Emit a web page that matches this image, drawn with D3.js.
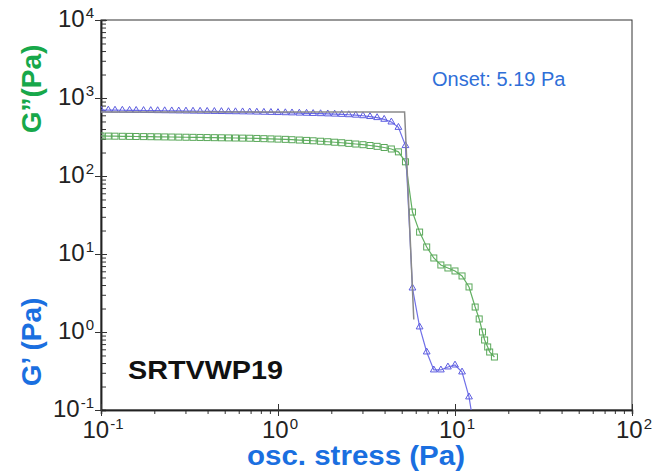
<!DOCTYPE html>
<html>
<head>
<meta charset="utf-8">
<script src="https://cdn.jsdelivr.net/npm/d3@7"></script>
<style>
  body { margin: 0; background: #fff; }
  svg { display: block; font-family: "Liberation Sans", Arial, sans-serif; }
</style>
</head>
<body>
<svg id="chart" width="670" height="472"></svg>
<script>
// oscillation stress (Pa)
var stress = [0.100, 0.110, 0.120, 0.132, 0.145, 0.158, 0.174, 0.191, 0.209, 0.229,
    0.251, 0.275, 0.302, 0.331, 0.363, 0.398, 0.437, 0.479, 0.525, 0.575,
    0.631, 0.692, 0.759, 0.832, 0.912, 1.00, 1.10, 1.20, 1.32, 1.45,
    1.58, 1.74, 1.91, 2.09, 2.29, 2.51, 2.75, 3.02, 3.31, 3.63,
    3.98, 4.37, 4.79, 5.25, 5.75, 6.31, 6.92, 7.59, 8.32, 9.12,
    10.0, 10.96, 12.0, 13.0, 13.7, 14.3, 14.7, 15.3, 15.7, 16.7];

// G' storage modulus (Pa), blue triangles
var gPrime = [702, 700, 698, 697, 695, 693, 691, 690, 688, 686,
    684, 682, 680, 678, 676, 674, 672, 670, 668, 666,
    664, 662, 659, 656, 653, 650, 647, 644, 640, 637,
    633, 629, 625, 621, 616, 610, 602, 592, 578, 560,
    533, 492, 420, 245, 3.66, 1.16, 0.554, 0.326, 0.326, 0.356,
    0.377, 0.307, 0.147, 0.048];

// G'' loss modulus (Pa), green squares
var gDouble = [326, 325, 324, 323, 322, 321, 320, 319, 318, 317,
    316, 315, 314, 313, 312, 311, 310, 309, 308, 307,
    306, 305, 303, 301, 299, 297, 295, 292, 289, 286,
    283, 279, 275, 271, 267, 262, 257, 252, 246, 240,
    232, 222, 204, 152, 34.5, 19.1, 12.3, 8.89, 7.23, 6.62,
    6.06, 5.23, 3.78, 2.09, 1.47, 1.00, 0.79, 0.643, 0.554, 0.478];

// onset construction line (plateau + tangent)
var onsetX = [0.1, 5.19, 5.85];
var onsetY = [662, 662, 1.45];

var decadesX = [-1, 0, 1, 2];
var decadesY = [-1, 0, 1, 2, 3, 4];

var svg = d3.select("#chart");
var plotL = 101, plotR = 632, plotT = 20, plotB = 410;

var x = d3.scaleLog().domain([0.1, 100]).range([plotL, plotR]);
var y = d3.scaleLog().domain([0.1, 10000]).range([plotB, plotT]);

function minors(decs) {
    var out = [];
    decs.slice(0, -1).forEach(function (d) {
        for (var m = 2; m <= 9; m++) out.push(m * Math.pow(10, d));
    });
    return out;
}

svg.append("defs").append("clipPath").attr("id", "plotclip")
    .append("rect").attr("x", plotL).attr("y", plotT)
    .attr("width", plotR - plotL).attr("height", plotB - plotT);

// frame
svg.append("rect")
    .attr("x", plotL).attr("y", plotT)
    .attr("width", plotR - plotL).attr("height", plotB - plotT)
    .attr("fill", "none").attr("stroke", "#333").attr("stroke-width", 1);

// left axis
svg.append("g")
    .attr("transform", "translate(" + plotL + ",0)")
    .call(d3.axisLeft(y).tickValues(minors(decadesY)).tickSize(-5).tickFormat(""));
var yMajor = svg.append("g")
    .attr("transform", "translate(" + plotL + ",0)")
    .call(d3.axisLeft(y).tickValues(decadesY.map(function (d) { return Math.pow(10, d); }))
        .tickSizeInner(6).tickSizeOuter(0).tickFormat(""));
yMajor.selectAll(".tick line").attr("x2", -6).attr("x1", 6);

// bottom axis
svg.append("g")
    .attr("transform", "translate(0," + plotB + ")")
    .call(d3.axisBottom(x).tickValues(minors(decadesX)).tickSize(4).tickFormat(""));
var xMajor = svg.append("g")
    .attr("transform", "translate(0," + plotB + ")")
    .call(d3.axisBottom(x).tickValues(decadesX.map(function (d) { return Math.pow(10, d); }))
        .tickSizeInner(6).tickSizeOuter(0).tickFormat(""));
xMajor.selectAll(".tick line").attr("y1", -6);

svg.selectAll(".domain").attr("stroke", "#222").attr("stroke-width", 1.5);
svg.selectAll(".tick line").attr("stroke", "#333");

// tick labels with superscripts
var yLab = svg.append("g").selectAll("text").data(decadesY).join("text")
    .attr("x", 94).attr("y", function (d) { return y(Math.pow(10, d)) + 7; })
    .attr("text-anchor", "end").attr("fill", "#222").attr("font-size", 24);
yLab.append("tspan").text("10");
yLab.append("tspan").attr("dx", 1).attr("dy", -9).attr("font-size", 15).text(function (d) { return d; });

var xLab = svg.append("g").selectAll("text").data(decadesX).join("text")
    .attr("x", function (d) { return x(Math.pow(10, d)) + 2; }).attr("y", 438)
    .attr("text-anchor", "middle").attr("fill", "#222").attr("font-size", 24);
xLab.append("tspan").text("10");
xLab.append("tspan").attr("dx", 1).attr("dy", -9).attr("font-size", 15).text(function (d) { return d; });

// axis titles
svg.append("text")
    .attr("transform", "translate(41,89) rotate(-90)")
    .attr("text-anchor", "middle").attr("font-size", 28).attr("font-weight", "bold")
    .attr("fill", "#17a84a").text("G\u201d(Pa)");
svg.append("text")
    .attr("transform", "translate(41,342) rotate(-90)")
    .attr("text-anchor", "middle").attr("font-size", 28).attr("font-weight", "bold")
    .attr("fill", "#1a6fe0").text("G\u2019 (Pa)");
svg.append("text")
    .attr("x", 356).attr("y", 465)
    .attr("text-anchor", "middle").attr("font-size", 27).attr("font-weight", "bold")
    .attr("fill", "#1a6fe0").attr("textLength", 218).attr("lengthAdjust", "spacingAndGlyphs")
    .text("osc. stress (Pa)");

var plot = svg.append("g").attr("clip-path", "url(#plotclip)");

var line = d3.line().x(function (d) { return x(d[0]); }).y(function (d) { return y(d[1]); });

var gpData = gPrime.map(function (v, i) { return [stress[i], v]; });
var gdData = gDouble.map(function (v, i) { return [stress[i], v]; });
var onsetData = onsetX.map(function (v, i) { return [v, onsetY[i]]; });

// G'' (green)
plot.append("path").datum(gdData)
    .attr("fill", "none").attr("stroke", "#62b062").attr("stroke-width", 1.2)
    .attr("d", line);
plot.append("g").selectAll("rect").data(gdData).join("rect")
    .attr("x", function (d) { return x(d[0]) - 3; })
    .attr("y", function (d) { return y(d[1]) - 3; })
    .attr("width", 6).attr("height", 6)
    .attr("fill", "none").attr("stroke", "#5aa85a").attr("stroke-width", 1);

// G' (blue)
plot.append("path").datum(gpData)
    .attr("fill", "none").attr("stroke", "#7070e8").attr("stroke-width", 1.2)
    .attr("d", line);
plot.append("g").selectAll("path").data(gpData).join("path")
    .attr("transform", function (d) { return "translate(" + x(d[0]) + "," + y(d[1]) + ")"; })
    .attr("d", d3.symbol(d3.symbolTriangle, 20))
    .attr("fill", "none").attr("stroke", "#5c5ce0").attr("stroke-width", 1);

// onset construction line
plot.append("path").datum(onsetData)
    .attr("fill", "none").attr("stroke", "#8a8a8a").attr("stroke-width", 1.5)
    .attr("d", line);

// annotations
svg.append("text")
    .attr("x", 432).attr("y", 86)
    .attr("font-size", 20).attr("fill", "#2f6fd8")
    .text("Onset: 5.19 Pa");
svg.append("text")
    .attr("x", 128).attr("y", 379)
    .attr("font-size", 25).attr("font-weight", "bold").attr("fill", "#111")
    .attr("textLength", 155).attr("lengthAdjust", "spacingAndGlyphs")
    .text("SRTVWP19");
</script>
</body>
</html>
